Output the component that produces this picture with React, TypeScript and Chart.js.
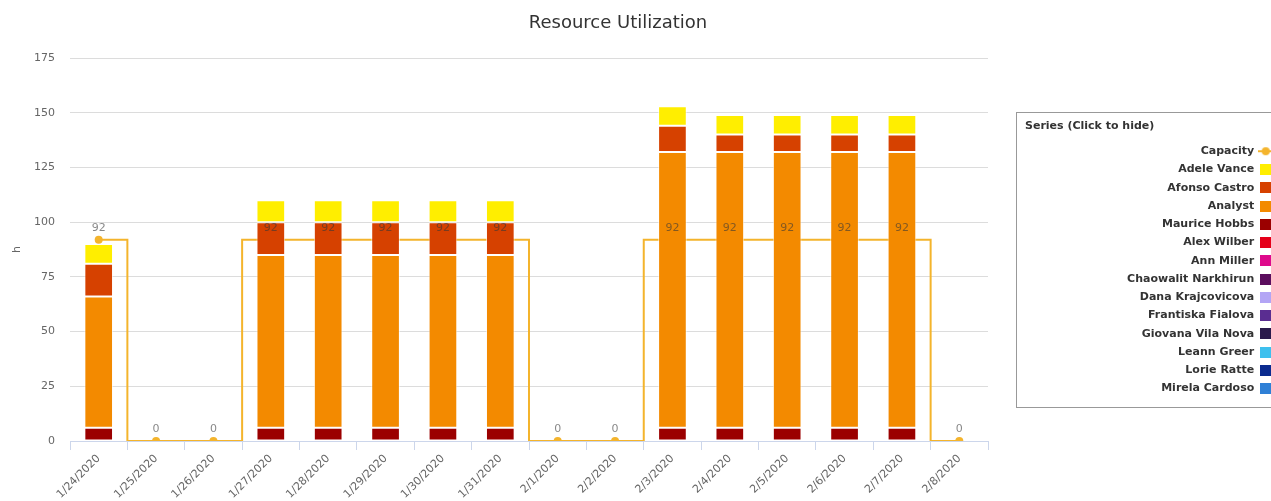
import React, { useEffect, useRef } from 'react';
import { Chart, registerables } from 'chart.js';

Chart.register(...registerables);

// ---------- data ----------
const categories = [
  '1/24/2020', '1/25/2020', '1/26/2020', '1/27/2020', '1/28/2020', '1/29/2020', '1/30/2020', '1/31/2020',
  '2/1/2020', '2/2/2020', '2/3/2020', '2/4/2020', '2/5/2020', '2/6/2020', '2/7/2020', '2/8/2020',
];
const capacity = [92, 0, 0, 92, 92, 92, 92, 92, 0, 0, 92, 92, 92, 92, 92, 0];
const adeleVance = [9, 0, 0, 10, 10, 10, 10, 10, 0, 0, 9, 9, 9, 9, 9, 0];
const afonsoCastro = [15, 0, 0, 15, 15, 15, 15, 15, 0, 0, 12, 8, 8, 8, 8, 0];
const analyst = [60, 0, 0, 79, 79, 79, 79, 79, 0, 0, 126, 126, 126, 126, 126, 0];
const mauriceHobbs = [6, 0, 0, 6, 6, 6, 6, 6, 0, 0, 6, 6, 6, 6, 6, 0];
const alexWilber = [0, 0, 0, 0, 0, 0, 0, 0, 0, 0, 0, 0, 0, 0, 0, 0];
const annMiller = [0, 0, 0, 0, 0, 0, 0, 0, 0, 0, 0, 0, 0, 0, 0, 0];
const chaowalitNarkhirun = [0, 0, 0, 0, 0, 0, 0, 0, 0, 0, 0, 0, 0, 0, 0, 0];
const danaKrajcovicova = [0, 0, 0, 0, 0, 0, 0, 0, 0, 0, 0, 0, 0, 0, 0, 0];
const frantiskaFialova = [0, 0, 0, 0, 0, 0, 0, 0, 0, 0, 0, 0, 0, 0, 0, 0];
const giovanaVilaNova = [0, 0, 0, 0, 0, 0, 0, 0, 0, 0, 0, 0, 0, 0, 0, 0];
const leannGreer = [0, 0, 0, 0, 0, 0, 0, 0, 0, 0, 0, 0, 0, 0, 0, 0];
const lorieRatte = [0, 0, 0, 0, 0, 0, 0, 0, 0, 0, 0, 0, 0, 0, 0, 0];
const mirelaCardoso = [0, 0, 0, 0, 0, 0, 0, 0, 0, 0, 0, 0, 0, 0, 0, 0];
const yTicks = [0, 25, 50, 75, 100, 125, 150, 175];

// ---------- series (legend order) ----------
const CAPACITY_COLOR = '#f4b42c';
const barSeries = [
  { label: 'Adele Vance', data: adeleVance, color: '#ffee00' },
  { label: 'Afonso Castro', data: afonsoCastro, color: '#d64100' },
  { label: 'Analyst', data: analyst, color: '#f38a00' },
  { label: 'Maurice Hobbs', data: mauriceHobbs, color: '#9b0000' },
  { label: 'Alex Wilber', data: alexWilber, color: '#e5001a' },
  { label: 'Ann Miller', data: annMiller, color: '#de0a8c' },
  { label: 'Chaowalit Narkhirun', data: chaowalitNarkhirun, color: '#5b0e5e' },
  { label: 'Dana Krajcovicova', data: danaKrajcovicova, color: '#b3a5f5' },
  { label: 'Frantiska Fialova', data: frantiskaFialova, color: '#5a2d91' },
  { label: 'Giovana Vila Nova', data: giovanaVilaNova, color: '#2b1a4c' },
  { label: 'Leann Greer', data: leannGreer, color: '#3ec0ee' },
  { label: 'Lorie Ratte', data: lorieRatte, color: '#0b2b8f' },
  { label: 'Mirela Cardoso', data: mirelaCardoso, color: '#2f80d6' },
];

const CHART_TITLE = 'Resource Utilization';
const LEGEND_TITLE = 'Series (Click to hide)';
const FONT = '"DejaVu Sans", "Lucida Grande", sans-serif';
const CANVAS_W = 1279;
const CANVAS_H = 501;
const LEGEND_W = 254;

function makeBoxIcon(color: string) {
  const c = document.createElement('canvas');
  c.width = 12;
  c.height = 11;
  const g = c.getContext('2d')!;
  g.fillStyle = color;
  g.fillRect(0, 0, 12, 11);
  return c;
}

function makeLineIcon(color: string) {
  const c = document.createElement('canvas');
  c.width = 16;
  c.height = 10;
  const g = c.getContext('2d')!;
  g.strokeStyle = color;
  g.lineWidth = 2;
  g.beginPath();
  g.moveTo(0, 5);
  g.lineTo(16, 5);
  g.stroke();
  g.fillStyle = color;
  g.beginPath();
  g.arc(8, 5, 4, 0, Math.PI * 2);
  g.fill();
  return c;
}

export default function App() {
  const ref = useRef<HTMLCanvasElement | null>(null);

  useEffect(() => {
    if (!ref.current) return;
    Chart.defaults.font.family = FONT;

    // stacking goes bottom-up in dataset order, so bars are listed reversed
    const barsBottomUp = [...barSeries].reverse();
    const icons: any[] = barsBottomUp.map((s) => makeBoxIcon(s.color));
    icons.push(makeLineIcon(CAPACITY_COLOR));

    const datasets: any[] = barsBottomUp.map((s) => ({
      type: 'bar',
      label: s.label,
      data: s.data,
      backgroundColor: s.color,
      borderColor: 'rgba(255,255,255,0.6)',
      borderWidth: 1,
      borderSkipped: false,
      barPercentage: 0.5,
      categoryPercentage: 1,
      order: 0,
    }));
    datasets.push({
      type: 'line',
      label: 'Capacity',
      data: capacity,
      borderColor: CAPACITY_COLOR,
      backgroundColor: CAPACITY_COLOR,
      borderWidth: 2,
      stepped: 'middle',
      pointRadius: 4,
      pointHoverRadius: 5,
      pointBorderWidth: 0,
      pointBackgroundColor: CAPACITY_COLOR,
      fill: false,
      order: 1,
    });

    const titlePlugin = {
      id: 'customTitle',
      afterDraw(chart: any) {
        const ctx = chart.ctx;
        ctx.save();
        ctx.font = `18px ${FONT}`;
        ctx.fillStyle = '#333333';
        ctx.textAlign = 'center';
        ctx.textBaseline = 'middle';
        ctx.fillText(CHART_TITLE, 618, 23);
        ctx.restore();
      },
    };

    const capacityLabels = {
      id: 'capacityLabels',
      afterDatasetsDraw(chart: any) {
        const idx = chart.data.datasets.findIndex((d: any) => d.label === 'Capacity');
        if (idx < 0 || !chart.isDatasetVisible(idx)) return;
        const meta = chart.getDatasetMeta(idx);
        const ctx = chart.ctx;
        ctx.save();
        ctx.font = `11px ${FONT}`;
        ctx.fillStyle = 'rgba(55,55,55,0.6)';
        ctx.textAlign = 'center';
        ctx.textBaseline = 'bottom';
        meta.data.forEach((pt: any, i: number) => {
          ctx.fillText(String(capacity[i]), pt.x, pt.y - 6);
        });
        ctx.restore();
      },
    };

    const legendWidth = {
      id: 'legendWidth',
      beforeLayout(chart: any) {
        const lg = chart.legend;
        if (lg && !lg._wPatched) {
          const proto = Object.getPrototypeOf(lg);
          lg.fit = function () {
            proto.fit.call(this);
            if (this.options.display) this.width = LEGEND_W;
          };
          lg._wPatched = true;
        }
      },
    };

    const legendBorder = {
      id: 'legendBorder',
      afterDraw(chart: any) {
        const lg = chart.legend;
        if (!lg || !lg.legendHitBoxes || !lg.legendHitBoxes.length) return;
        const hb = lg.legendHitBoxes;
        const top = hb[0].top - 34;
        const bottom = hb[hb.length - 1].top + hb[hb.length - 1].height + 13;
        const left = lg.left - 9;
        const ctx = chart.ctx;
        ctx.save();
        ctx.strokeStyle = '#999999';
        ctx.lineWidth = 1;
        ctx.strokeRect(Math.round(left) + 0.5, Math.round(top) + 0.5, chart.width + 20 - left, Math.round(bottom - top));
        ctx.font = `bold 11px ${FONT}`;
        ctx.fillStyle = '#333333';
        ctx.textAlign = 'left';
        ctx.textBaseline = 'middle';
        ctx.fillText(LEGEND_TITLE, lg.left, hb[0].top - 19.5);
        ctx.restore();
      },
    };

    const chart = new Chart(ref.current, {
      type: 'bar',
      data: { labels: categories, datasets },
      options: {
        animation: false,
        responsive: true,
        maintainAspectRatio: false,
        layout: { padding: { top: 58, left: 0, right: 0, bottom: 0 } },
        plugins: {
          title: { display: false },
          tooltip: { enabled: true },
          legend: {
            display: true,
            position: 'right',
            fullSize: false,
            align: 'start',
            reverse: true,
            rtl: true,
            textDirection: 'ltr',
            title: {
              display: true,
              text: LEGEND_TITLE,
              position: 'end',
              color: 'rgba(0,0,0,0)',
              font: { size: 11, weight: 'bold', family: FONT },
              padding: { top: 62.5, bottom: 4.8 },
            },
            labels: {
              usePointStyle: true,
              pointStyleWidth: 12,
              boxHeight: 11,
              padding: 7.25,
              color: '#333333',
              font: { size: 11, weight: 'bold', family: FONT },
              generateLabels: (ch: any) => {
                const items = (Chart.defaults.plugins.legend.labels as any).generateLabels(ch);
                return items.map((it: any) => ({ ...it, pointStyle: icons[it.datasetIndex] }));
              },
            },
          },
        } as any,
        scales: {
          x: {
            stacked: true,
            offset: true,
            grid: {
              display: true,
              offset: true,
              drawOnChartArea: false,
              drawTicks: true,
              tickLength: 9,
              color: '#ccd6eb',
            },
            border: { display: true, color: '#ccd6eb' },
            ticks: {
              autoSkip: false,
              minRotation: 45,
              maxRotation: 45,
              color: '#666666',
              padding: 2,
              font: { size: 11, family: FONT },
            },
            afterFit: (s: any) => {
              s.height = 60;
            },
          },
          y: {
            stacked: true,
            min: 0,
            max: 175,
            afterBuildTicks: (s: any) => {
              s.ticks = yTicks.map((v) => ({ value: v }));
            },
            grid: { color: '#dcdcdc', drawTicks: false },
            border: { display: false },
            ticks: { color: '#666666', padding: 15, font: { size: 11, family: FONT } },
            title: {
              display: true,
              text: 'h',
              color: '#666666',
              font: { size: 11, family: FONT },
              padding: { top: 11, bottom: 0 },
            },
            afterFit: (s: any) => {
              s.width = 70;
            },
          },
          yPad: {
            type: 'linear',
            position: 'right',
            display: true,
            grid: { display: false },
            border: { display: false },
            ticks: { display: false },
            afterFit: (s: any) => {
              s.width = 37;
            },
          },
        } as any,
      },
      plugins: [titlePlugin, capacityLabels, legendWidth, legendBorder],
    });

    return () => chart.destroy();
  }, []);

  return (
    <div
      style={{
        position: 'fixed',
        left: 0,
        top: 0,
        width: 1271,
        height: CANVAS_H,
        overflow: 'hidden',
        background: '#ffffff',
      }}
    >
      <div style={{ position: 'relative', width: CANVAS_W, height: CANVAS_H }}>
        <canvas ref={ref} />
      </div>
    </div>
  );
}
